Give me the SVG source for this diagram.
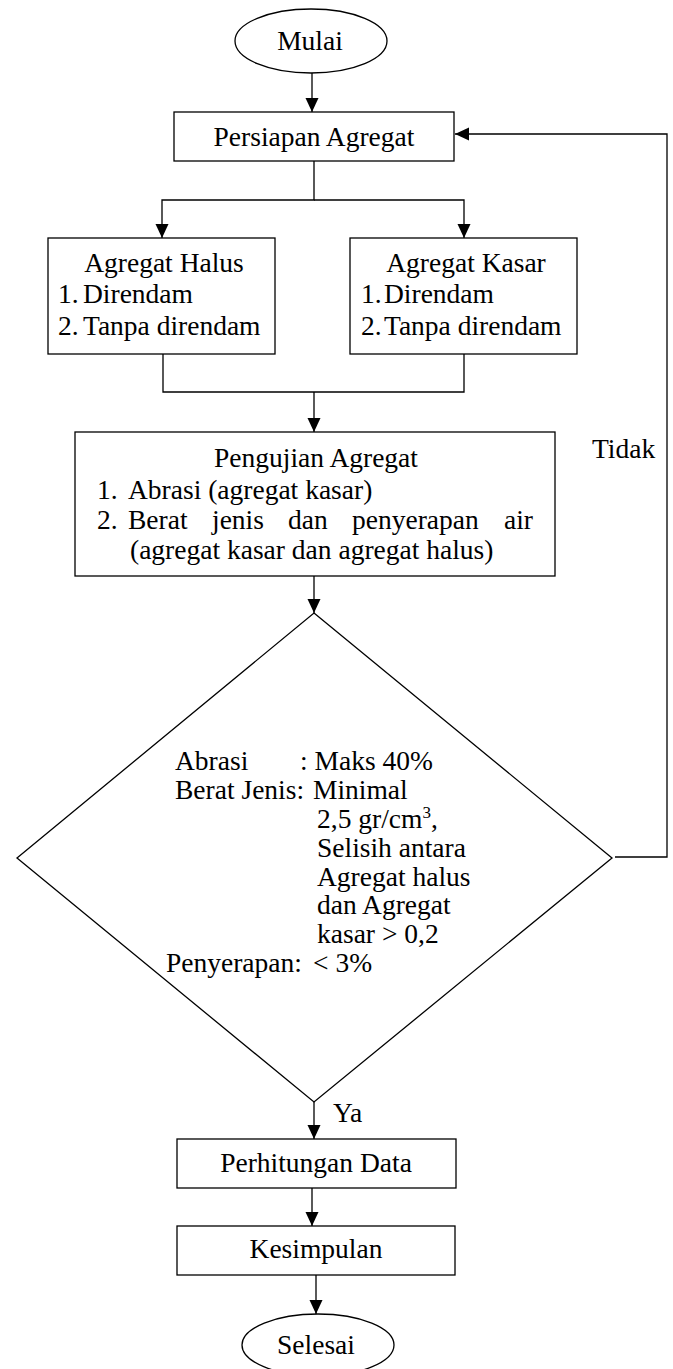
<svg xmlns="http://www.w3.org/2000/svg" width="673" height="1369" viewBox="0 0 673 1369">
<defs>
<style>
.n{fill:#fff;stroke:#000;stroke-width:1.3}
.c{fill:none;stroke:#000;stroke-width:1.3}
text{font-family:"Liberation Serif","Times New Roman",serif;font-size:27.5px;fill:#000}
.m{text-anchor:middle}
.e{text-anchor:end}
</style>
<marker id="ah" markerUnits="userSpaceOnUse" markerWidth="14" markerHeight="14" refX="14" refY="6.5" orient="auto">
<path d="M0,0 L14,6.5 L0,13 z" fill="#000"/>
</marker>
</defs>
<rect width="673" height="1369" fill="#fff"/>
<g id="connectors">
<path class="c" d="M312,73 V112" marker-end="url(#ah)"/>
<path class="c" d="M314,161 V200 H162 V238" marker-end="url(#ah)"/>
<path class="c" d="M314,200 H464 V238" marker-end="url(#ah)"/>
<path class="c" d="M163,354 V392 H464 V354"/>
<path class="c" d="M314,392 V432" marker-end="url(#ah)"/>
<path class="c" d="M314,576 V613" marker-end="url(#ah)"/>
<path class="c" d="M314,1102 V1139" marker-end="url(#ah)"/>
<path class="c" d="M312,1188 V1226" marker-end="url(#ah)"/>
<path class="c" d="M316,1275 V1314" marker-end="url(#ah)"/>
<path class="c" d="M615,857 H667 V134 H455" marker-end="url(#ah)"/>
<text x="333" y="1122">Ya</text>
<text x="592" y="458">Tidak</text>
</g>
<g id="mulai">
<ellipse class="n" cx="311" cy="41" rx="76" ry="32"/>
<text class="m" x="310" y="50">Mulai</text>
</g>
<g id="persiapan">
<rect class="n" x="174" y="112" width="280" height="49"/>
<text class="m" x="314" y="146">Persiapan Agregat</text>
</g>
<g id="halus">
<rect class="n" x="48" y="238" width="227" height="116"/>
<text class="m" x="164" y="272">Agregat Halus</text>
<text x="58" y="303">1.</text><text x="83" y="303">Direndam</text>
<text x="58" y="335">2.</text><text x="83" y="335">Tanpa direndam</text>
</g>
<g id="kasar">
<rect class="n" x="350" y="238" width="227" height="116"/>
<text class="m" x="466" y="272">Agregat Kasar</text>
<text x="361" y="303">1.</text><text x="384" y="303">Direndam</text>
<text x="361" y="335">2.</text><text x="384" y="335">Tanpa direndam</text>
</g>
<g id="pengujian">
<rect class="n" x="75" y="432" width="480" height="144"/>
<text class="m" x="316" y="467">Pengujian Agregat</text>
<text x="97" y="499">1.</text><text x="128" y="499">Abrasi (agregat kasar)</text>
<text x="97" y="529">2.</text>
<text x="128" y="529">Berat</text>
<text x="212" y="529">jenis</text>
<text x="288" y="529">dan</text>
<text x="352" y="529">penyerapan</text>
<text class="e" x="533" y="529">air</text>
<text x="130" y="559">(agregat kasar dan agregat halus)</text>
</g>
<g id="keputusan">
<polygon class="n" points="314,613 612,858 314,1102 17,858"/>
<text x="175" y="770">Abrasi</text><text x="300" y="770">: Maks 40%</text>
<text x="175" y="799">Berat Jenis:</text><text x="313" y="799">Minimal</text>
<text x="317" y="828">2,5 gr/cm<tspan font-size="17" dy="-10">3</tspan><tspan dy="10">,</tspan></text>
<text x="317" y="857">Selisih antara</text>
<text x="317" y="886">Agregat halus</text>
<text x="317" y="914">dan Agregat</text>
<text x="317" y="943">kasar &gt; 0,2</text>
<text x="166" y="972">Penyerapan:</text><text x="313" y="972">&lt; 3%</text>
</g>
<g id="perhitungan">
<rect class="n" x="177" y="1139" width="279" height="49"/>
<text class="m" x="316" y="1172">Perhitungan Data</text>
</g>
<g id="kesimpulan">
<rect class="n" x="177" y="1226" width="278" height="49"/>
<text class="m" x="316" y="1258">Kesimpulan</text>
</g>
<g id="selesai">
<ellipse class="n" cx="318" cy="1345" rx="76" ry="31"/>
<text class="m" x="316" y="1354">Selesai</text>
</g>
</svg>
